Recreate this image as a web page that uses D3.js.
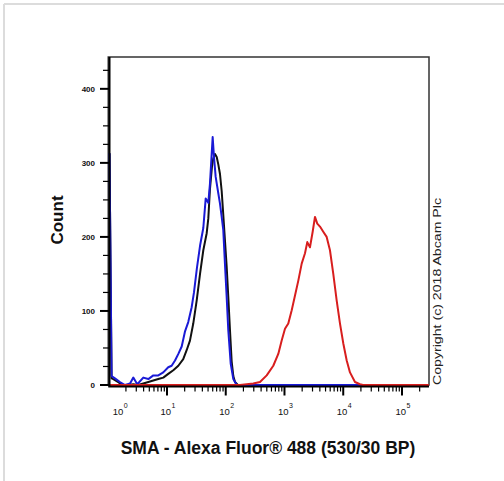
<!DOCTYPE html>
<html>
<head>
<meta charset="utf-8">
<script src="https://cdn.jsdelivr.net/npm/d3@7"></script>
<style>
  html, body { margin: 0; padding: 0; background: #fff; }
  svg { display: block; }
  text { font-family: "Liberation Sans", Arial, sans-serif; }
</style>
</head>
<body>
<svg id="chart" width="504" height="481"></svg>
<script>
// ---- data ----
const blackIntensity = [1.05, 1.14, 1.22, 1.48, 1.69, 2.17, 2.67, 3.21, 3.95, 4.81, 5.85, 7.11, 8.65, 10.5, 12.8, 15.6, 18.9, 21.6, 24.6, 28.0, 32.0, 36.5, 41.5, 47.4, 50.5, 53.9, 58.3, 61.4, 65.6, 70.2, 74.7, 79.8, 85.3, 90.8, 97.0, 103.7, 110.5, 118.1, 126.1, 134.6, 143.8, 160.7, 280000];
const blackCount     = [313, 9, 8, 4, 0, 0, 1, 0, 2, 4, 6, 8, 10, 15, 20, 26, 35, 47, 60, 83, 114, 150, 182, 205, 225, 265, 295, 306, 312, 308, 298, 285, 262, 230, 195, 160, 119, 74, 32, 12, 4, 0, 0];

const blueIntensity = [1.05, 1.14, 1.30, 1.58, 1.93, 2.35, 2.67, 3.12, 3.95, 4.81, 5.85, 7.11, 8.65, 10.5, 12.0, 13.7, 15.6, 17.8, 20.2, 23.0, 26.3, 28.8, 32.3, 36.5, 41.5, 45.6, 50.5, 53.9, 59.9, 63.1, 67.4, 74.7, 79.8, 85.3, 90.8, 97.0, 103.7, 110.5, 121.4, 134.6, 153.6, 280000];
const blueCount     = [313, 12, 9, 4, 0, 2, 10, 1, 10, 8, 13, 13, 17, 24, 26, 33, 42, 52, 72, 85, 105, 125, 158, 188, 212, 252, 246, 272, 335, 308, 281, 259, 245, 227, 209, 163, 119, 74, 29, 8, 0, 0];

const redIntensity = [1, 175, 294, 383, 498, 645, 784, 896, 1020, 1161, 1327, 1510, 1719, 1963, 2234, 2444, 2715, 3019, 3304, 3614, 4018, 4574, 5224, 5945, 6771, 7738, 8810, 10030, 11460, 13030, 15850, 19280, 21680, 288000];
const redCount     = [0, 0, 2, 4, 13, 26, 42, 60, 76, 83, 101, 121, 141, 164, 178, 193, 186, 207, 227, 218, 214, 207, 200, 182, 150, 114, 83, 56, 33, 17, 4, 1, 0, 0];

const yMajorTicks = [0, 100, 200, 300, 400];
const yMinorTicks = [25, 50, 75, 125, 150, 175, 225, 250, 275, 325, 350, 375, 425];
const xDecadeExponents = [0, 1, 2, 3, 4, 5];

const xTitle = "SMA - Alexa Fluor® 488 (530/30 BP)";
const yTitle = "Count";
const copyright = "Copyright (c) 2018 Abcam Plc";

(function () {
// ---- layout ----
const svg = d3.select("#chart");
const pL = 108.25, pR = 429, pT = 57, pB = 385;

const x = d3.scaleLog().domain([1, Math.pow(10, 5.46)]).range([pL, pR]);
const y = d3.scaleLinear().domain([0, 443]).range([pB, pT]);

// outer light frame
svg.append("line").attr("x1", 4).attr("x2", 504).attr("y1", 4).attr("y2", 4)
  .attr("stroke", "#dcdcdc").attr("stroke-width", 2);
svg.append("line").attr("x1", 4).attr("x2", 4).attr("y1", 4).attr("y2", 481)
  .attr("stroke", "#dcdcdc").attr("stroke-width", 2);

// plot box
svg.append("rect").attr("x", pL).attr("y", pT)
  .attr("width", pR - pL).attr("height", pB - pT)
  .attr("fill", "none").attr("stroke", "#333").attr("stroke-width", 1.5);

// curves
const line = d3.line().x(d => x(d[0])).y(d => y(d[1]));
const series = [
  { xs: blackIntensity, ys: blackCount, color: "#111111" },
  { xs: blueIntensity, ys: blueCount, color: "#1a1ad6" },
  { xs: redIntensity, ys: redCount, color: "#d81e1e" }
];
svg.append("clipPath").attr("id", "clip").append("rect")
  .attr("x", pL).attr("y", pT).attr("width", pR - pL).attr("height", pB - pT + 2);
series.forEach(s => {
  svg.append("path")
    .datum(s.xs.map((v, i) => [v, s.ys[i]]))
    .attr("d", line)
    .attr("fill", "none")
    .attr("stroke", s.color)
    .attr("stroke-width", 2)
    .attr("stroke-linejoin", "round")
    .attr("clip-path", "url(#clip)");
});

// x axis
const axisY = 386.5;
svg.append("line").attr("x1", pL).attr("x2", pR).attr("y1", axisY).attr("y2", axisY)
  .attr("stroke", "#000").attr("stroke-width", 2);
const xMinor = [];
xDecadeExponents.forEach(e => {
  for (let m = 2; m <= 9; m++) {
    const v = m * Math.pow(10, e);
    if (v <= x.domain()[1]) xMinor.push(v);
  }
});
svg.append("g").selectAll("line").data(xMinor).join("line")
  .attr("x1", d => x(d)).attr("x2", d => x(d))
  .attr("y1", axisY).attr("y2", axisY + 5)
  .attr("stroke", "#000").attr("stroke-width", 1.2);
svg.append("g").selectAll("line").data(xDecadeExponents.slice(1)).join("line")
  .attr("x1", d => x(Math.pow(10, d))).attr("x2", d => x(Math.pow(10, d)))
  .attr("y1", axisY).attr("y2", axisY + 9)
  .attr("stroke", "#000").attr("stroke-width", 2);
const xl = svg.append("g").selectAll("text").data(xDecadeExponents).join("text")
  .attr("x", d => x(Math.pow(10, d)) + (d === 0 ? 12 : 1))
  .attr("y", 415)
  .attr("text-anchor", "middle")
  .attr("font-size", 9.5)
  .attr("fill", "#111");
xl.append("tspan").text("10");
xl.append("tspan").attr("dy", -7).attr("dx", 0.5).attr("font-size", 7).text(d => d);

// y axis
svg.append("line").attr("x1", 109.5).attr("x2", 109.5).attr("y1", pT).attr("y2", axisY)
  .attr("stroke", "#000").attr("stroke-width", 2);
svg.append("g").selectAll("line").data(yMinorTicks).join("line")
  .attr("x1", 103).attr("x2", 109).attr("y1", d => y(d)).attr("y2", d => y(d))
  .attr("stroke", "#000").attr("stroke-width", 1.2);
svg.append("g").selectAll("line").data(yMajorTicks).join("line")
  .attr("x1", 100).attr("x2", 109).attr("y1", d => y(d)).attr("y2", d => y(d))
  .attr("stroke", "#000").attr("stroke-width", 2);
svg.append("g").selectAll("text").data(yMajorTicks).join("text")
  .attr("x", 95).attr("y", d => y(d) + 3)
  .attr("text-anchor", "end")
  .attr("font-size", 8).attr("font-weight", "bold").attr("fill", "#111")
  .text(d => d);

// titles
svg.append("text").attr("x", 268).attr("y", 454)
  .attr("text-anchor", "middle").attr("font-size", 17.5).attr("font-weight", "bold")
  .attr("fill", "#111").text(xTitle);
svg.append("text").attr("transform", "translate(62.5,220) rotate(-90)")
  .attr("text-anchor", "middle").attr("font-size", 17).attr("font-weight", "bold")
  .attr("fill", "#111").text(yTitle);
svg.append("text").attr("transform", "translate(440.5,385) rotate(-90)")
  .attr("text-anchor", "start").attr("font-size", 11)
  .attr("textLength", 187).attr("lengthAdjust", "spacingAndGlyphs")
  .attr("fill", "#222").text(copyright);
})();
</script>
</body>
</html>
